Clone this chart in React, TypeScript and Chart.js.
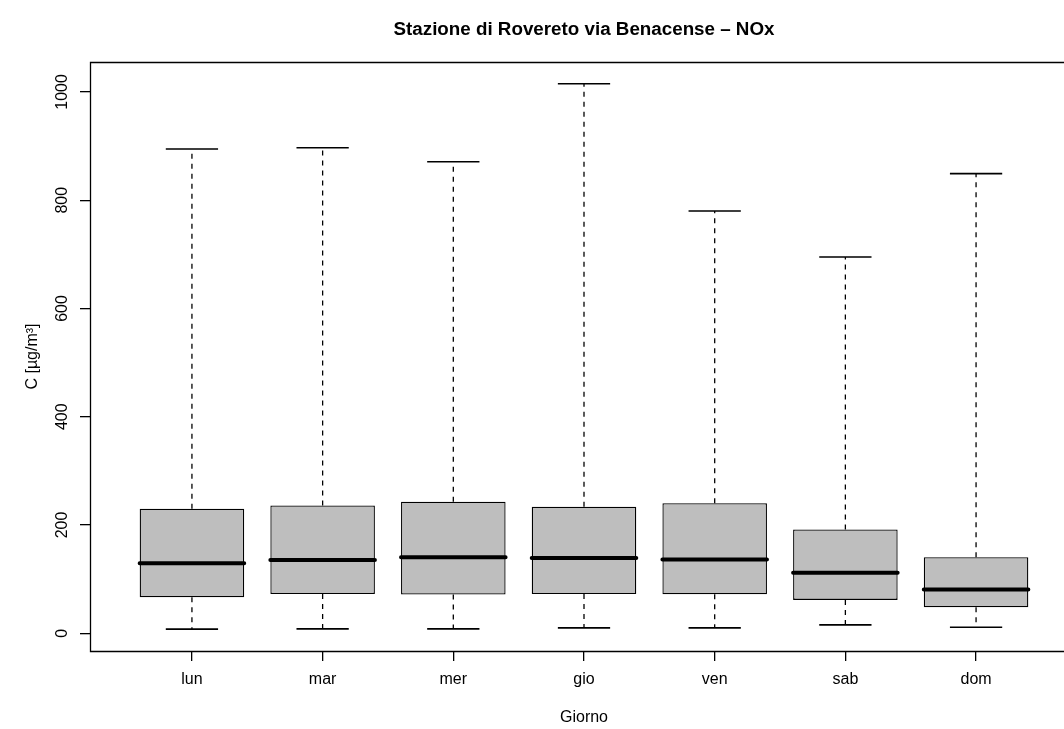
import React, { useEffect, useRef } from "react";
import { Chart, registerables } from "chart.js";

Chart.register(...registerables);

const chartTitle = "Stazione di Rovereto via Benacense \u2013 NOx";
const xTitle = "Giorno";
const yTitle = "C [\u00b5g/m\u00b3]";

const days = ["lun", "mar", "mer", "gio", "ven", "sab", "dom"];
const whiskerLow = [7.5, 8, 8, 9.8, 9.8, 15.4, 11];
const q1 = [66.5, 72.5, 71.5, 72.5, 72, 61.5, 48];
const medians = [129, 135, 140.5, 139, 136, 111.5, 80.5];
const q3 = [230, 236, 243, 233.5, 240, 191.5, 140.5];
const whiskerHigh = [894.5, 897, 871, 1015, 780, 695, 849];
const yTicks = [0, 200, 400, 600, 800, 1000];

const FONT = "'Liberation Sans', Arial, Helvetica, sans-serif";
const BOX_HALF = 0.4;
const STAPLE_HALF = 0.2;

export default function App() {
  const ref = useRef<HTMLCanvasElement | null>(null);

  useEffect(() => {
    document.body.style.margin = "0";
    const canvas = ref.current;
    if (!canvas) return;

    const boxData = days.map((_, i) => ({ x: i + 1, y: [q1[i], q3[i]] }));
    const whiskerData: any[] = [];
    const stapleData: any[] = [];
    const medianData: any[] = [];
    days.forEach((_, i) => {
      const x = i + 1;
      whiskerData.push({ x, y: q3[i] }, { x, y: whiskerHigh[i] }, { x, y: null });
      whiskerData.push({ x, y: q1[i] }, { x, y: whiskerLow[i] }, { x, y: null });
      stapleData.push(
        { x: x - STAPLE_HALF, y: whiskerHigh[i] },
        { x: x + STAPLE_HALF, y: whiskerHigh[i] },
        { x: x + STAPLE_HALF, y: null },
        { x: x - STAPLE_HALF, y: whiskerLow[i] },
        { x: x + STAPLE_HALF, y: whiskerLow[i] },
        { x: x + STAPLE_HALF, y: null }
      );
      medianData.push(
        { x: x - BOX_HALF, y: medians[i] },
        { x: x + BOX_HALF, y: medians[i] },
        { x: x + BOX_HALF, y: null }
      );
    });

    const framePlugin = {
      id: "frameAndTitle",
      afterDatasetsDraw(chart: any) {
        const { ctx, chartArea } = chart;
        ctx.save();
        ctx.strokeStyle = "#000";
        ctx.lineWidth = 1.3;
        ctx.beginPath();
        const l = Math.round(chartArea.left) + 0.5;
        const t = Math.round(chartArea.top) + 0.5;
        const b = Math.round(chartArea.bottom) + 0.5;
        const r = Math.round(chartArea.right) + 0.5;
        ctx.moveTo(r, t);
        ctx.lineTo(l, t);
        ctx.lineTo(l, b);
        ctx.lineTo(r, b);
        ctx.stroke();
        ctx.fillStyle = "#000";
        ctx.font = `bold 18.8px ${FONT}`;
        ctx.textAlign = "center";
        ctx.textBaseline = "middle";
        ctx.fillText(chartTitle, (chartArea.left + chartArea.right) / 2, 30);
        ctx.restore();
      },
    };

    const chart = new Chart(canvas, {
      type: "bar",
      data: {
        datasets: [
          {
            type: "bar",
            data: boxData as any,
            backgroundColor: "#BEBEBE",
            borderColor: "#000000",
            borderWidth: 1.3,
            borderSkipped: false,
            barPercentage: 0.8,
            categoryPercentage: 1,
            order: 4,
          } as any,
          {
            type: "line",
            data: whiskerData,
            borderColor: "#000000",
            borderWidth: 1.3,
            borderDash: [5, 5],
            pointRadius: 0,
            spanGaps: false,
            fill: false,
            order: 3,
          } as any,
          {
            type: "line",
            data: stapleData,
            borderColor: "#000000",
            borderWidth: 1.6,
            pointRadius: 0,
            spanGaps: false,
            fill: false,
            order: 2,
          } as any,
          {
            type: "line",
            data: medianData,
            borderColor: "#000000",
            borderWidth: 4,
            borderCapStyle: "round",
            pointRadius: 0,
            spanGaps: false,
            fill: false,
            order: 1,
          } as any,
        ],
      },
      options: {
        animation: false,
        responsive: false,
        devicePixelRatio: 1,
        layout: { padding: { left: 0, top: 62, right: 2, bottom: 0 } },
        plugins: {
          legend: { display: false },
          tooltip: { enabled: false },
          title: { display: false },
        },
        scales: {
          x: {
            type: "linear",
            min: 0.22,
            max: 7.78,
            offset: false,
            afterBuildTicks: (s: any) => {
              s.ticks = days.map((_, i) => ({ value: i + 1 }));
            },
            afterFit: (s: any) => {
              s.height = 78;
            },
            grid: {
              display: true,
              drawOnChartArea: false,
              offset: false,
              tickLength: 10,
              color: "#000000",
              lineWidth: 1.3,
            },
            border: { display: false },
            ticks: {
              autoSkip: false,
              maxRotation: 0,
              minRotation: 0,
              padding: 9,
              color: "#000000",
              font: { family: FONT, size: 16 },
              callback: (v: any) => days[Number(v) - 1] ?? "",
            },
            title: {
              display: true,
              text: xTitle,
              color: "#000000",
              font: { family: FONT, size: 16 },
              padding: { top: 0, bottom: 1.5 },
            },
          },
          y: {
            type: "linear",
            min: -32.9,
            max: 1055.3,
            beginAtZero: false,
            afterBuildTicks: (s: any) => {
              s.ticks = yTicks.map((v) => ({ value: v }));
            },
            afterFit: (s: any) => {
              s.width = 90;
            },
            grid: {
              display: true,
              drawOnChartArea: false,
              tickLength: 10,
              color: "#000000",
              lineWidth: 1.3,
            },
            border: { display: false },
            ticks: {
              minRotation: 90,
              maxRotation: 90,
              crossAlign: "center",
              padding: 0,
              color: "#000000",
              font: { family: FONT, size: 16 },
              callback: (v: any) => String(v),
            },
            title: {
              display: true,
              text: yTitle,
              color: "#000000",
              font: { family: FONT, size: 16 },
              padding: { top: 23, bottom: 0 },
            },
          },
        },
      } as any,
      plugins: [framePlugin],
    });

    return () => chart.destroy();
  }, []);

  return (
    <div style={{ width: 1064, height: 729, overflow: "hidden", background: "#fff" }}>
      <canvas ref={ref} width={1080} height={729} style={{ display: "block", width: 1080, height: 729 }} />
    </div>
  );
}
